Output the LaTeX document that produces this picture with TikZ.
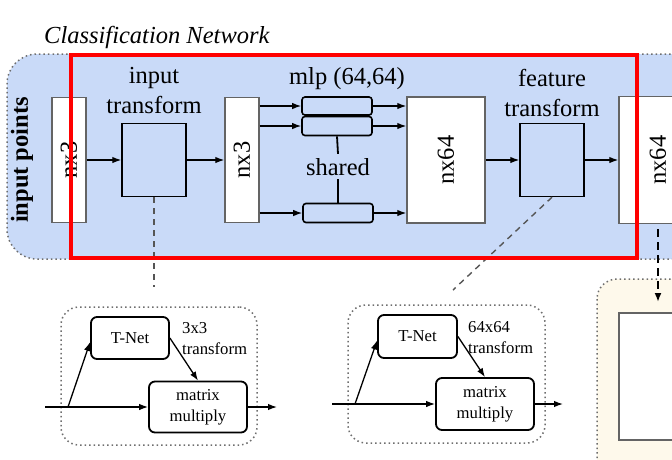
\documentclass[tikz,border=0pt]{standalone}
\usepackage{fontspec}
\setmainfont{Liberation Serif}
\usetikzlibrary{arrows.meta,calc}
\definecolor{bgblue}{RGB}{201,218,248}
\definecolor{cream}{RGB}{254,249,235}
\definecolor{boxgray}{RGB}{100,100,100}
\definecolor{dotgray}{RGB}{110,110,110}
\definecolor{dashgray}{RGB}{85,85,85}
\begin{document}
\begin{tikzpicture}[x=1pt,y=-1pt,
  big/.style={font=\fontsize{24.5}{30}\selectfont},
  small/.style={font=\fontsize{16.7}{21}\selectfont},
  wbox/.style={draw=boxgray, fill=white, line width=1.4pt, inner sep=0pt, big},
  tbox/.style={draw=black, fill=bgblue, line width=1.4pt, minimum width=64, minimum height=73, inner sep=0pt},
  mbox/.style={draw=black, line width=1.6pt, rounded corners=3pt, minimum width=70, minimum height=19, inner sep=0pt},
  nbox/.style={draw=black, line width=1.8pt, rounded corners=6pt, inner sep=0pt, small, align=center},
  arr/.style={line width=1.3pt, -{Latex[length=9pt,width=6.5pt]}},
  dotbox/.style={draw=dotgray, line width=1.5pt, dash pattern=on 1.5pt off 3pt, rounded corners=18pt},
  dashln/.style={draw=dashgray, line width=1.4pt, dash pattern=on 6pt off 5pt},
  dasharr/.style={draw=black, line width=2pt, dash pattern=on 8pt off 5pt, dash phase=8pt, -{Latex[length=9pt,width=7pt]}},
]
\clip (0,0) rectangle (672,459);
\useasboundingbox (0,0) rectangle (672,459);

% background panel
\path[fill=bgblue, draw=dotgray, line width=1.5pt, dash pattern=on 1.5pt off 3pt, rounded corners=30pt]
  (720,54) -- (7,54) -- (7,259) -- (720,259);
% cream panel
\path[fill=cream, dotbox, rounded corners=20pt] (597,279) rectangle (760,520);
\path[draw=boxgray, fill=white, line width=1.4pt] (619,313) rectangle (740,440);

% title
\node[font=\fontsize{24.5}{30}\selectfont\itshape, anchor=base west, inner sep=0pt] (title) at (44,43) {Classification Network};
\node[font=\fontsize{24.5}{30}\selectfont\bfseries, rotate=90] (pts) at (22,160) {input points};

% main row
\node[wbox, minimum width=34, minimum height=125] (b1) at (69,160) {\rotatebox{90}{nx3}};
\node[tbox] (it) at (154,160) {};
\node[wbox, minimum width=34, minimum height=125] (b2) at (242,160) {\rotatebox{90}{nx3}};
\node[mbox, minimum height=18] (m1) at (337,106) {};
\node[mbox] (m2) at (337,126) {};
\node[mbox] (m3) at (338,213) {};
\node[wbox, minimum width=78, minimum height=126] (n1) at (446,160) {\rotatebox{90}{nx64}};
\node[tbox] (ft) at (552,160) {};
\node[wbox, minimum width=78, minimum height=127] (n2) at (658,160) {\rotatebox{90}{nx64}};

\node[big, align=center, anchor=base] (itl) at (154,113) {input\\transform};
\node[big, align=center, anchor=base] (ftl) at (552,116) {feature\\transform};
\node[big, anchor=base] (mlp) at (347,84) {mlp (64,64)};
\node[big, anchor=base, inner xsep=2pt, inner ysep=4pt] (sh) at (338,175) {shared};

\draw[line width=1.8pt] (m2.south) -- (sh.north);
\draw[line width=1.8pt] (sh.south) -- (m3.north);

\draw[arr] (b1) -- (it);
\draw[arr] (it) -- (b2);
\draw[arr] (b2.east |- m1) -- (m1.west);
\draw[arr] (b2.east |- m2) -- (m2.west);
\draw[arr] (b2.east |- m3) -- (m3.west);
\draw[arr] (m1.east) -- (n1.west |- m1);
\draw[arr] (m2.east) -- (n1.west |- m2);
\draw[arr] (m3.east) -- (n1.west |- m3);
\draw[arr] (n1) -- (ft);
\draw[arr] (ft) -- (n2);

% dashed links
\coordinate (e1) at (154,287);
\draw[dashln] (it.south) -- (e1);
\coordinate (e2) at (453,290);
\draw[dashln] (ft.south) -- (e2);
\coordinate (e3) at (658,302);
\draw[dasharr] (n2.south) -- (e3);

% input transform detail
\node[dotbox, minimum width=196, minimum height=138] (d1) at (159,376) {};
\node[nbox, minimum width=78, minimum height=42] (t1) at (130,338) {T-Net};
\node[nbox, minimum width=98, minimum height=51] (mm1) at (198,407) {matrix\\multiply};
\node[small, align=left, anchor=base west, inner sep=0pt] (l1) at (182,354) {3x3\\transform};
\coordinate (in1) at (45,407);
\coordinate (br1) at (68,407);
\coordinate (o1) at (277,407);
\draw[arr] (in1) -- (mm1.west);
\draw[arr] (br1) -- ([yshift=-4pt]t1.west);
\draw[arr] (t1.east) -- (mm1.north);
\draw[arr] (mm1.east) -- (o1);

% feature transform detail
\node[dotbox, minimum width=197, minimum height=138] (d2) at (446.5,374) {};
\node[nbox, minimum width=79, minimum height=43] (t2) at (417.5,336.5) {T-Net};
\node[nbox, minimum width=98, minimum height=52] (mm2) at (485,404) {matrix\\multiply};
\node[small, align=left, anchor=base west, inner sep=0pt] (l2) at (468,353) {64x64\\transform};
\coordinate (in2) at (332,404);
\coordinate (br2) at (355,404);
\coordinate (o2) at (563,404);
\draw[arr] (in2) -- (mm2.west);
\draw[arr] (br2) -- ([yshift=-4pt]t2.west);
\draw[arr] (t2.east) -- (mm2.north);
\draw[arr] (mm2.east) -- (o2);

% highlight
\draw[red, line width=4pt] (71,55) rectangle (637,258);
\end{tikzpicture}
\end{document}
